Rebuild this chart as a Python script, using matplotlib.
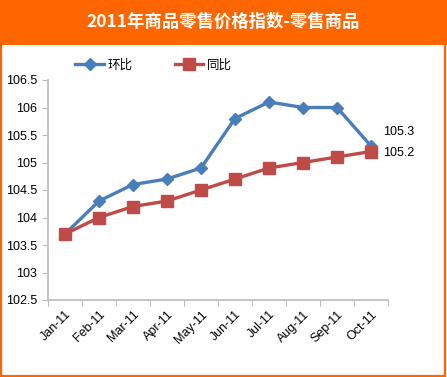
import matplotlib
matplotlib.use("Agg")
from matplotlib import pyplot as plt
from matplotlib.patches import Rectangle
import numpy as np

plt.rcParams['font.family'] = ['Liberation Sans', 'Noto Sans CJK SC', 'DejaVu Sans']

months = ['Jan-11', 'Feb-11', 'Mar-11', 'Apr-11', 'May-11', 'Jun-11',
          'Jul-11', 'Aug-11', 'Sep-11', 'Oct-11']
huanbi = [103.7, 104.3, 104.6, 104.7, 104.9, 105.8, 106.1, 106.0, 106.0, 105.3]
tongbi = [103.7, 104.0, 104.2, 104.3, 104.5, 104.7, 104.9, 105.0, 105.1, 105.2]
yticks = [102.5, 103, 103.5, 104, 104.5, 105, 105.5, 106, 106.5]
ytick_labels = ['102.5', '103', '103.5', '104', '104.5', '105', '105.5', '106', '106.5']

W, H = 447, 377
fig = plt.figure(figsize=(W / 100, H / 100), dpi=100)

# title band and border
fig.patches.append(Rectangle((0, 1 - 45 / H), 1, 45 / H, transform=fig.transFigure,
                             facecolor='#FF6600', edgecolor='none', zorder=0))
fig.patches.append(Rectangle((1 / W, 1 / H), 1 - 3 / W, 1 - 2 / H, transform=fig.transFigure,
                             facecolor='none', edgecolor='#FF6600', linewidth=1.6, zorder=1))
fig.text(0.5, 1 - 22 / H, '2011年商品零售价格指数-零售商品', color='white',
         fontsize=12.5, fontweight='bold', ha='center', va='center',
         family=['Noto Sans CJK SC', 'DejaVu Sans'])

ax = fig.add_axes([48 / W, 1 - 300 / H, 340 / W, 220 / H])
x = np.arange(len(months))
l1, = ax.plot(x, huanbi, color='#4A7EBB', linewidth=2.4, marker='D', markersize=6,
              label='环比', zorder=3)
l2, = ax.plot(x, tongbi, color='#BE4B48', linewidth=2.4, marker='s', markersize=8,
              label='同比', zorder=3)

ax.set_xlim(-0.5, len(months) - 0.5)
ax.set_ylim(102.5, 106.5)
ax.set_yticks(yticks)
ax.set_yticklabels(ytick_labels, fontsize=9)
ax.set_xticks(np.arange(len(months) + 1) - 0.5)
ax.set_xticklabels([])
ax.set_xticks(x, minor=True)
ax.set_xticklabels(months, minor=True, rotation=45, ha='right', rotation_mode='anchor',
                   fontsize=9)
ax.tick_params(axis='x', which='minor', length=0, pad=6)
ax.tick_params(axis='x', which='major', length=4, color='#BBBBBB', direction='out')
ax.tick_params(axis='y', length=4, color='#BBBBBB', pad=4)
for s in ['top', 'right']:
    ax.spines[s].set_visible(False)
for s in ['left', 'bottom']:
    ax.spines[s].set_color('#BBBBBB')
    ax.spines[s].set_linewidth(1.2)

ax.annotate('%.1f' % huanbi[-1], (x[-1], huanbi[-1]), xytext=(9, 10),
            textcoords='offset points', fontsize=9, va='center')
ax.annotate('%.1f' % tongbi[-1], (x[-1], tongbi[-1]), xytext=(9, -1),
            textcoords='offset points', fontsize=9, va='center')

fig.legend(handles=[l1, l2], loc='center left', bbox_to_anchor=(64 / W, 1 - 65 / H),
           ncol=2, frameon=False, handlelength=2.3, handletextpad=0.25,
           columnspacing=3.4,
           prop={'family': ['Noto Sans CJK SC', 'DejaVu Sans'], 'size': 9})

fig.savefig('out.png', dpi=100)
